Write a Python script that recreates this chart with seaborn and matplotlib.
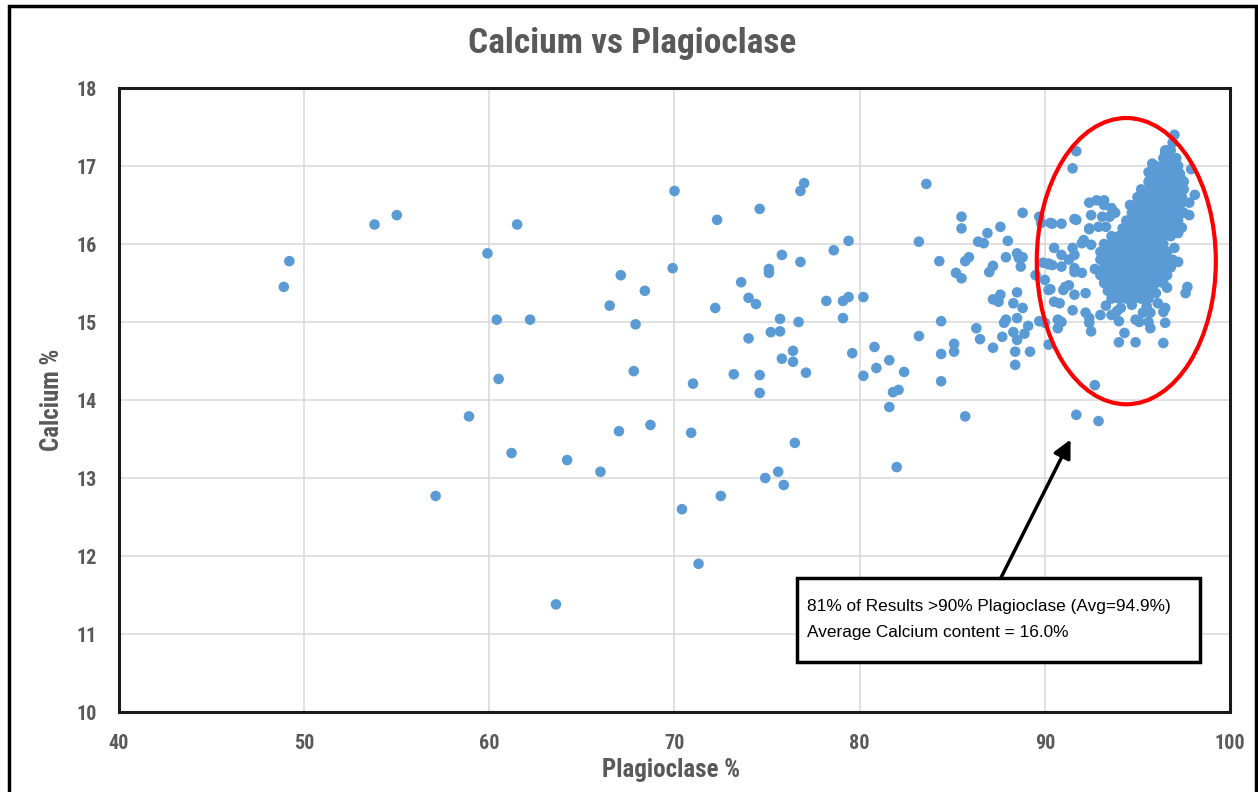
import matplotlib
matplotlib.use("Agg")
import matplotlib.pyplot as plt
import seaborn as sns
import pandas as pd
from matplotlib.patches import Ellipse, Rectangle

# ---------------- data ----------------
scatter_x = [48.9, 49.2, 53.8, 55.0, 57.1, 58.9, 59.9, 60.4, 60.5, 61.2, 61.5, 62.2, 63.6, 64.2, 66.0,
             66.5, 67.1, 67.9, 68.4, 67.8, 67.0, 68.7, 69.9, 70.0, 71.0, 70.9, 70.4, 71.3, 72.3, 72.2,
             72.5, 73.2, 73.6, 74.0, 74.4, 74.0, 74.6, 74.6, 74.6, 75.1, 75.1, 75.2, 75.7, 75.7, 75.8,
             75.8, 76.4, 76.4, 76.5, 74.9, 75.6, 75.9, 76.8, 77.0, 76.8, 76.7, 77.1, 78.2, 78.6, 79.4,
             79.1, 79.4, 79.1, 80.2, 79.6, 80.2, 80.8, 80.9, 81.6, 81.8, 82.1, 81.6, 82.0, 82.4]
scatter_y = [15.45, 15.78, 16.25, 16.37, 12.77, 13.79, 15.88, 15.03, 14.27, 13.32, 16.25, 15.03, 11.38, 13.23, 13.08,
             15.21, 15.60, 14.97, 15.40, 14.37, 13.60, 13.68, 15.69, 16.68, 14.21, 13.58, 12.60, 11.90, 16.31, 15.18,
             12.77, 14.33, 15.51, 15.31, 15.23, 14.79, 14.32, 14.09, 16.45, 15.68, 15.63, 14.87, 15.04, 14.88, 15.86,
             14.53, 14.63, 14.49, 13.45, 13.00, 13.08, 12.91, 16.68, 16.78, 15.77, 15.00, 14.35, 15.27, 15.92, 16.04,
             15.27, 15.32, 15.05, 15.32, 14.60, 14.31, 14.68, 14.41, 14.51, 14.10, 14.13, 13.91, 13.14, 14.36]

mid_x = [83.6, 83.2, 84.3, 85.5, 85.5, 85.2, 85.5, 85.7, 85.9, 84.4, 83.2, 84.4, 85.1, 85.1, 84.4, 85.7,
         86.3, 86.5, 86.4, 86.7, 86.9, 87.6, 87.0, 87.2, 88.0, 87.9, 88.5, 88.8, 88.6, 88.7, 88.8, 87.2,
         87.6, 87.5, 88.3, 88.5, 88.8, 87.8, 87.9, 88.5, 89.1, 88.3, 88.5, 88.9, 87.7, 87.2, 88.4, 89.2,
         88.4, 89.5, 89.7, 89.8, 89.7, 90.2, 90.0, 89.9, 90.2, 90.3, 90.3, 90.0]
mid_y = [16.77, 16.03, 15.78, 16.35, 16.20, 15.63, 15.56, 15.78, 15.83, 15.01, 14.82, 14.59, 14.72, 14.62, 14.24, 13.79,
         14.92, 14.78, 16.03, 16.01, 16.14, 16.22, 15.64, 15.72, 16.04, 15.83, 15.88, 15.83, 15.82, 15.71, 16.40, 15.29,
         15.35, 15.26, 15.24, 15.38, 15.18, 14.99, 15.03, 15.05, 14.95, 14.87, 14.77, 14.85, 14.81, 14.67, 14.62, 14.62,
         14.45, 15.60, 16.35, 16.27, 15.01, 14.71, 15.54, 15.76, 15.74, 16.27, 15.42, 14.99]

edge_x = [91.7, 91.5, 97.0, 96.6, 96.5, 96.8, 95.8, 95.6, 97.9, 98.1, 97.8, 97.8, 92.4, 92.8, 93.2, 93.2,
          93.6, 92.5, 93.1, 93.5, 93.8, 91.6, 90.9, 90.4, 92.4, 92.9, 93.3, 92.1, 92.0, 92.5, 90.5, 91.5,
          91.6, 90.9, 90.2, 90.9, 91.6, 92.7, 92.0, 91.6, 90.4, 91.3, 91.0, 91.3, 91.1, 90.2, 91.6, 92.2,
          90.5, 90.8, 91.5, 92.2, 92.4, 92.4, 92.5, 93.0, 93.6, 94.0, 90.7, 90.9, 90.7, 94.9, 95.1, 94.3,
          94.0, 94.9, 96.4, 95.7, 95.6, 95.7, 96.5, 96.4, 96.5, 97.7, 97.6, 97.2, 96.6, 96.0, 92.7, 91.7,
          92.9, 91.7, 92.4, 97.4, 97.2, 97.0, 97.4, 93.3, 94.1, 94.7, 95.5, 96.1, 93.9, 95.3]
edge_y = [17.19, 16.97, 17.40, 17.20, 17.17, 17.10, 17.03, 16.92, 16.96, 16.63, 16.53, 16.37, 16.53, 16.56, 16.56, 16.50,
          16.46, 16.37, 16.35, 16.35, 16.40, 16.32, 16.26, 16.26, 16.19, 16.22, 16.22, 16.05, 16.01, 15.99, 15.95, 15.95,
          15.86, 15.86, 15.75, 15.71, 15.69, 15.68, 15.63, 15.64, 15.73, 15.80, 15.41, 15.47, 15.45, 15.41, 15.35, 15.37,
          15.26, 15.24, 15.15, 15.12, 15.05, 14.99, 14.88, 15.09, 15.09, 15.01, 15.03, 15.00, 14.92, 15.03, 15.00, 14.86,
          14.74, 14.74, 14.73, 15.12, 15.00, 14.92, 15.18, 15.13, 14.99, 15.45, 15.37, 15.77, 15.44, 15.37, 14.19, 13.81,
          13.73, 16.31, 16.20, 16.21, 16.14, 15.95, 16.82, 15.21, 15.18, 15.22, 15.20, 15.24, 15.14, 15.12]

# dense core of the >90% cluster, read row by row (calcium value: plagioclase values)
core_rows = {
    17.3: [96.9],
    17.2: [96.5, 96.8],
    17.1: [96.4, 96.8, 97.1],
    17.0: [96.0, 96.4, 96.8, 97.2],
    16.9: [95.7, 96.1, 96.5, 96.9, 97.3],
    16.8: [95.6, 96.0, 96.4, 96.8, 97.2, 97.5],
    16.7: [95.2, 95.6, 96.0, 96.4, 96.8, 97.2, 97.5],
    16.6: [95.0, 95.4, 95.8, 96.2, 96.6, 97.0, 97.4],
    16.5: [94.6, 94.9, 95.3, 95.7, 96.1, 96.5, 96.9, 97.3],
    16.4: [94.7, 95.1, 95.5, 95.9, 96.3, 96.7, 97.1, 97.5],
    16.3: [94.4, 94.8, 95.2, 95.6, 96.0, 96.4, 96.8, 97.2],
    16.2: [94.2, 94.6, 95.0, 95.4, 95.8, 96.2, 96.6, 97.0],
    16.1: [93.6, 94.0, 94.4, 94.8, 95.2, 95.6, 96.0, 96.4, 96.8],
    16.0: [93.2, 93.6, 94.0, 94.4, 94.8, 95.2, 95.6, 96.0, 96.4],
    15.9: [93.0, 93.4, 93.8, 94.2, 94.6, 95.0, 95.4, 95.8, 96.2, 96.6],
    15.8: [93.0, 93.4, 93.8, 94.2, 94.6, 95.0, 95.4, 95.8, 96.2, 96.6, 96.9],
    15.7: [93.2, 93.6, 94.0, 94.4, 94.8, 95.2, 95.6, 96.0, 96.4, 96.8],
    15.6: [93.0, 93.4, 93.8, 94.2, 94.6, 95.0, 95.4, 95.8, 96.2, 96.6],
    15.5: [93.2, 93.6, 94.0, 94.4, 94.8, 95.2, 95.6, 96.0, 96.4],
    15.4: [93.4, 93.8, 94.2, 94.6, 95.0, 95.4, 95.8],
    15.3: [93.6, 94.0, 94.4, 94.8, 95.2, 95.6],
}

x_ticks = [40, 50, 60, 70, 80, 90, 100]
y_ticks = [10, 11, 12, 13, 14, 15, 16, 17, 18]
title = "Calcium vs Plagioclase"
x_label = "Plagioclase %"
y_label = "Calcium %"
note_lines = ["81% of Results >90% Plagioclase (Avg=94.9%)", "Average Calcium content = 16.0%"]

# ---------------- build frame ----------------
core_x, core_y = [], []
for cy, xs in core_rows.items():
    core_x.extend(xs)
    core_y.extend([cy] * len(xs))

df = pd.DataFrame({
    "Plagioclase": scatter_x + mid_x + edge_x + core_x,
    "Calcium": scatter_y + mid_y + edge_y + core_y,
})

sns.set_theme(style="white")
COND = ["Roboto Condensed", "DejaVu Sans"]
plt.rcParams["font.family"] = ["Liberation Sans", "DejaVu Sans"]

W, H = 1258, 792
fig = plt.figure(figsize=(W / 100, H / 100), dpi=100)
fig.patch.set_facecolor("white")
ax = fig.add_axes([119 / W, 1 - 712 / H, (1230 - 119) / W, (712 - 88) / H])

ax.set_xlim(40, 100)
ax.set_ylim(10, 18)
ax.set_xticks(x_ticks)
ax.set_yticks(y_ticks)
ax.grid(True, color="#d9d9d9", linewidth=1.1)
ax.set_axisbelow(True)

sns.scatterplot(data=df, x="Plagioclase", y="Calcium", ax=ax, color="#5B9BD5",
                s=58, linewidth=0, edgecolor="none", legend=False, zorder=3)

for sp in ax.spines.values():
    sp.set_color("#1a1a1a")
    sp.set_linewidth(2.2)

ax.tick_params(axis="both", length=0, colors="#595959")
ax.tick_params(axis="y", pad=16)
ax.tick_params(axis="x", pad=16)
for lbl in ax.get_xticklabels() + ax.get_yticklabels():
    lbl.set_fontfamily(COND)
    lbl.set_fontweight("bold")
    lbl.set_fontsize(14.5)
    lbl.set_color("#595959")
ax.set_xlabel("")
ax.set_ylabel("")

fig.text(632 / W, 1 - 43 / H, title, ha="center", va="center", fontsize=25.5,
         fontweight="bold", color="#595959", family=COND)
fig.text(671 / W, 1 - 770 / H, x_label, ha="center", va="center", fontsize=18,
         fontweight="bold", color="#595959", family=COND)
fig.text(52 / W, 1 - 400 / H, y_label, ha="center", va="center", fontsize=18,
         fontweight="bold", color="#595959", family=COND, rotation=90)

# red ellipse around the cluster
ax.add_patch(Ellipse((94.4, 15.78), 9.67, 3.67, fill=False, edgecolor="#ff0000",
                     linewidth=3, zorder=4))

# annotation box
bx0, bx1 = 40 + (797 - 119) / 18.52, 40 + (1200 - 119) / 18.52
by0, by1 = 18 - (662 - 88) / 78, 18 - (578 - 88) / 78
ax.add_patch(Rectangle((bx0, by0), bx1 - bx0, by1 - by0, facecolor="white",
                       edgecolor="black", linewidth=2.5, zorder=5))
ax.text(bx0 + 0.55, 18 - (607 - 88) / 78, note_lines[0], fontsize=12.4, color="black",
        va="center", ha="left", zorder=6)
ax.text(bx0 + 0.55, 18 - (632 - 88) / 78, note_lines[1], fontsize=12.4, color="black",
        va="center", ha="left", zorder=6)
ax.annotate("", xy=(40 + (1072 - 119) / 18.52, 18 - (437 - 88) / 78),
            xytext=(40 + (1000 - 119) / 18.52, 18 - (580 - 88) / 78),
            arrowprops=dict(arrowstyle="-|>,head_length=0.9,head_width=0.45",
                            color="black", lw=2.5), zorder=6)

# outer chart frame
fig.add_artist(Rectangle((8.5 / W, -0.02), (1256 - 8.5) / W, 1 - 6 / H + 0.02,
                         transform=fig.transFigure, fill=False, edgecolor="black",
                         linewidth=2.5))

fig.savefig("out.png", dpi=100, facecolor="white")
